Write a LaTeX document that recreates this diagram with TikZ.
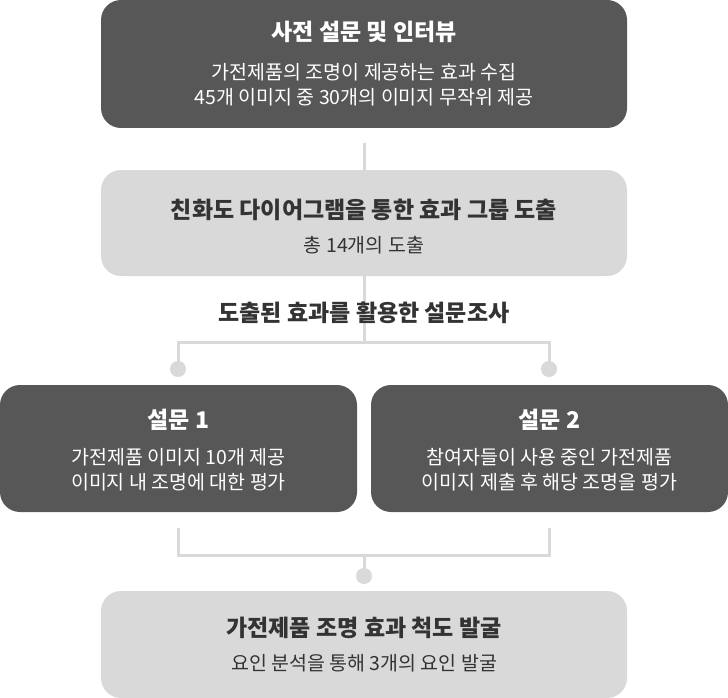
\documentclass[tikz,border=0pt]{standalone}
\usepackage{fontspec}
\newfontfamily\kr{Noto Sans CJK KR}
\definecolor{darkbox}{HTML}{575757}
\definecolor{lightbox}{HTML}{D9D9D9}
\definecolor{ink}{HTML}{333333}
\begin{document}
\begin{tikzpicture}[x=1pt,y=-1pt,
  box/.style={rectangle,rounded corners=20pt,minimum width=526pt,inner sep=0pt},
  darkb/.style={box,fill=darkbox},
  lightb/.style={box,fill=lightbox},
  ttl/.style={font=\kr\bfseries\fontsize{23}{26}\selectfont,inner sep=0pt},
  sub/.style={font=\kr\fontsize{19.5}{25.5}\selectfont,inner sep=0pt,align=center},
  conn/.style={draw=lightbox,line width=3pt},
  dot/.style={circle,fill=lightbox,minimum size=16pt,inner sep=0pt}]
\useasboundingbox (0,0) rectangle (728,698);
% boxes
\node[darkb,minimum height=128pt] (b1) at (364,64) {};
\node[lightb,minimum height=106pt] (b2) at (364,223) {};
\node[darkb,minimum width=357pt,minimum height=127pt] (b3) at (178.5,448.5) {};
\node[darkb,minimum width=357pt,minimum height=127pt] (b4) at (549.5,448.5) {};
\node[lightb,minimum height=107pt] (b5) at (364,644.5) {};
% connectors
\node[dot] (d1) at (178,369) {};
\node[dot] (d2) at (549,369) {};
\node[dot] (d3) at (364,576) {};
\coordinate (j1) at (364,342);
\coordinate (j2) at (364,555);
\draw[conn] ([yshift=-15pt]b1.south) -- (b2.north);
\draw[conn] (b2.south) -- (j1);
\draw[conn] (d1.center) |- (j1) -| (d2.center);
\coordinate (l3) at ([yshift=-16pt]b3.south);
\coordinate (l4) at ([yshift=-16pt]b4.south);
\draw[conn] (l3) |- (j2) -| (l4);
\draw[conn] (j2) -- (d3.center);
% texts
\node[ttl,text=white] (t1) at (364,32) {사전 설문 및 인터뷰};
\node[sub,text=white] (s1) at (364,84.5) {가전제품의 조명이 제공하는 효과 수집\\45개 이미지 중 30개의 이미지 무작위 제공};
\node[ttl,text=ink] (t2) at (364,210) {친화도 다이어그램을 통한 효과 그룹 도출};
\node[sub,text=ink] (s2) at (364,245) {총 14개의 도출};
\node[ttl,text=ink] (lab) at (364,313) {도출된 효과를 활용한 설문조사};
\node[ttl,text=white] (t3) at (178.5,420) {설문 1};
\node[sub,text=white] (s3) at (178.5,469.5) {가전제품 이미지 10개 제공\\이미지 내 조명에 대한 평가};
\node[ttl,text=white] (t4) at (549.5,420) {설문 2};
\node[sub,text=white] (s4) at (549.5,469.5) {참여자들이 사용 중인 가전제품\\이미지 제출 후 해당 조명을 평가};
\node[ttl,text=ink] (t5) at (364,628) {가전제품 조명 효과 척도 발굴};
\node[sub,text=ink] (s5) at (364,663) {요인 분석을 통해 3개의 요인 발굴};
\end{tikzpicture}
\end{document}
